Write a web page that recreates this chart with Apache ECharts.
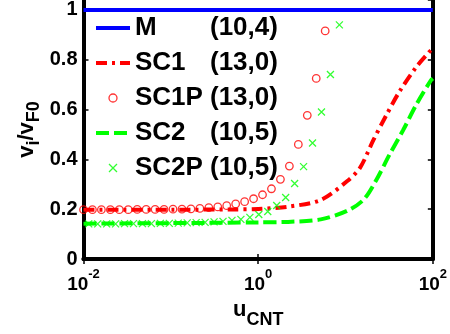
<!DOCTYPE html>
<html>
<head>
<meta charset="utf-8">
<script src="https://cdn.jsdelivr.net/npm/echarts@6/dist/echarts.min.js"></script>
<style>
  html, body { margin: 0; padding: 0; background: #fff; }
  #container { width: 450px; height: 334px; }
</style>
</head>
<body>
<div id="container"></div>
<script>
// names and chiralities for the legend
const seriesNames = ['M', 'SC1', 'SC1P', 'SC2', 'SC2P'];
const chirality = ['(10,4)', '(13,0)', '(13,0)', '(10,5)', '(10,5)'];

// M line (flat at 1)
const uM = [0.01, 100];
const yM = [1, 1];

// SC1 dash-dot curve
const uSC1 = [0.01, 0.1, 0.5, 1, 2.2, 5.2, 10.4, 14.6, 20.9, 29.4, 41.3, 64.3, 90.2, 100];
const ySC1 = [0.198, 0.198, 0.199, 0.201, 0.21, 0.237, 0.312, 0.365, 0.478, 0.578, 0.671, 0.77, 0.83, 0.845];

// SC2 dashed curve
const uSC2 = [0.01, 0.1, 1, 2.2, 5.2, 10.4, 16.2, 22.7, 31.8, 45.8, 64.3, 94.8, 100];
const ySC2 = [0.142, 0.144, 0.147, 0.149, 0.159, 0.193, 0.239, 0.319, 0.418, 0.518, 0.618, 0.717, 0.725];

// SC1P circles
const uSC1P = [0.01, 0.01266, 0.01603, 0.0203, 0.0257, 0.03254, 0.04121, 0.05218, 0.06607, 0.08366,
  0.1059, 0.1341, 0.1698, 0.215, 0.2723, 0.3447, 0.4365, 0.5527, 0.6998, 0.886,
  1.122, 1.42, 1.799, 2.278, 2.884, 3.652, 4.624, 5.855];
const ySC1P = [0.198, 0.198, 0.198, 0.198, 0.198, 0.198, 0.199, 0.199, 0.199, 0.199,
  0.2, 0.2, 0.201, 0.203, 0.206, 0.209, 0.214, 0.221, 0.23, 0.242,
  0.258, 0.282, 0.32, 0.373, 0.46, 0.577, 0.725, 0.916];

// SC2P crosses
const uSC2P = [0.01148, 0.01454, 0.01841, 0.02331, 0.02951, 0.03737, 0.04732, 0.05991, 0.07586, 0.09605,
  0.1216, 0.154, 0.195, 0.2469, 0.3126, 0.3959, 0.5012, 0.6346, 0.8035, 1.017,
  1.288, 1.631, 2.065, 2.615, 3.311, 4.193, 5.309, 6.722, 8.511];
const ySC2P = [0.141, 0.141, 0.141, 0.141, 0.142, 0.142, 0.142, 0.142, 0.143, 0.143,
  0.144, 0.145, 0.146, 0.147, 0.149, 0.151, 0.155, 0.159, 0.167, 0.179,
  0.191, 0.215, 0.247, 0.303, 0.371, 0.466, 0.59, 0.741, 0.94];

function pairs(xs, ys) {
  return xs.map((x, i) => [x, ys[i]]);
}

const FONT = 'Liberation Sans, Arial, Helvetica, sans-serif';
const chiral = {};
seriesNames.forEach((n, i) => { chiral[n] = chirality[i]; });

const crossPath = 'path://M0,0L10,10M10,0L0,10';
const RED = '#ff0000';
const GREEN = '#00ff00';
const BLUE = '#0000ff';
const DASHDOT = [11, 5, 3, 5];
const DASH = [13, 5];

var dom = document.getElementById('container');
var myChart = echarts.init(dom, null, { renderer: 'canvas' });

var option = {
  animation: false,
  backgroundColor: '#fff',
  textStyle: { fontFamily: FONT },
  grid: { left: 83.5, right: 12.5, top: -1, bottom: 74 },
  legend: {
    orient: 'vertical',
    left: 94,
    top: 15,
    padding: 0,
    itemWidth: 34,
    itemHeight: 8,
    itemGap: 9,
    selectedMode: false,
    textStyle: {
      fontFamily: FONT, fontSize: 26, fontWeight: 'bold', color: '#000',
      rich: {
        a: { fontFamily: FONT, fontSize: 26, fontWeight: 'bold', color: '#000', width: 75, lineHeight: 24 },
        b: { fontFamily: FONT, fontSize: 26, fontWeight: 'bold', color: '#000', lineHeight: 24 }
      }
    },
    formatter: function (name) {
      return '{a|' + name + '}{b|' + chiral[name] + '}';
    },
    data: [
      { name: 'M', itemStyle: { opacity: 0 }, lineStyle: { color: BLUE, width: 4, type: 'solid' } },
      { name: 'SC1', itemStyle: { opacity: 0 }, lineStyle: { color: RED, width: 4, type: DASHDOT } },
      { name: 'SC1P', icon: 'circle', itemStyle: { color: 'rgba(0,0,0,0)', borderColor: RED, borderWidth: 1.3 } },
      { name: 'SC2', itemStyle: { opacity: 0 }, lineStyle: { color: GREEN, width: 4, type: DASH } },
      { name: 'SC2P', icon: crossPath, itemStyle: { color: 'rgba(0,0,0,0)', borderColor: GREEN, borderWidth: 1.3 } }
    ]
  },
  xAxis: [{
    type: 'log',
    logBase: 10,
    min: 0.01,
    max: 100,
    interval: 2,
    position: 'bottom',
    axisLine: { lineStyle: { color: '#000', width: 4 } },
    axisTick: { inside: true, length: 5, lineStyle: { color: '#000', width: 1.5 } },
    minorTick: { show: false },
    splitLine: { show: false },
    axisLabel: {
      margin: 9,
      formatter: function (v) {
        const e = Math.round(Math.log10(v));
        return '{b|10}{s|' + e + '}';
      },
      rich: {
        b: { fontFamily: FONT, fontSize: 19, fontWeight: 'bold', color: '#000' },
        s: { fontFamily: FONT, fontSize: 13, fontWeight: 'bold', color: '#000', padding: [0, 0, 20, 0] }
      }
    },
    name: '{a|u}{b|CNT}',
    nameLocation: 'middle',
    nameGap: 32,
    nameMoveOverlap: false,
    nameTextStyle: {
      rich: {
        a: { fontFamily: FONT, fontSize: 22, fontWeight: 'bold', color: '#000' },
        b: { fontFamily: FONT, fontSize: 18, fontWeight: 'bold', color: '#000', padding: [20, 0, 0, 0] }
      }
    }
  }, {
    type: 'log',
    logBase: 10,
    min: 0.01,
    max: 100,
    interval: 2,
    position: 'top',
    axisLine: { lineStyle: { color: '#000', width: 4 } },
    axisTick: { inside: true, length: 5, lineStyle: { color: '#000', width: 1.5 } },
    axisLabel: { show: false },
    splitLine: { show: false }
  }],
  yAxis: [{
    type: 'value',
    min: 0,
    max: 1.04,
    interval: 0.2,
    position: 'left',
    axisLine: { show: true, lineStyle: { color: '#000', width: 4 } },
    axisTick: { show: true, inside: true, length: 5, lineStyle: { color: '#000', width: 1.5 } },
    splitLine: { show: false },
    axisLabel: {
      margin: 6,
      showMaxLabel: false,
      fontFamily: FONT, fontSize: 20, fontWeight: 'bold', color: '#000',
      formatter: function (v) {
        return v > 1.001 ? '' : String(+v.toFixed(1));
      }
    },
    name: '{a|v}{b|i}{a|/v}{b|F0}',
    nameLocation: 'middle',
    nameRotate: 90,
    nameGap: 40,
    nameMoveOverlap: false,
    nameTextStyle: {
      rich: {
        a: { fontFamily: FONT, fontSize: 22, fontWeight: 'bold', color: '#000' },
        b: { fontFamily: FONT, fontSize: 18, fontWeight: 'bold', color: '#000', padding: [16, 0, 0, 0] }
      }
    }
  }, {
    type: 'value',
    min: 0,
    max: 1.04,
    interval: 0.2,
    position: 'right',
    axisLine: { show: true, lineStyle: { color: '#000', width: 4 } },
    axisTick: { show: true, inside: true, length: 5, lineStyle: { color: '#000', width: 1.5 } },
    axisLabel: { show: false },
    splitLine: { show: false }
  }],
  series: [{
    name: 'M',
    type: 'line',
    data: pairs(uM, yM),
    symbol: 'none',
    lineStyle: { color: BLUE, width: 4 },
    itemStyle: { color: BLUE },
    z: 3
  }, {
    name: 'SC1',
    type: 'line',
    data: pairs(uSC1, ySC1),
    symbol: 'none',
    smooth: 0.3,
    lineStyle: { color: RED, width: 4, type: DASHDOT },
    itemStyle: { color: RED }
  }, {
    name: 'SC1P',
    type: 'scatter',
    data: pairs(uSC1P, ySC1P),
    symbol: 'circle',
    symbolSize: 7.5,
    itemStyle: { color: 'rgba(0,0,0,0)', borderColor: RED, borderWidth: 1.3 },
    z: 4
  }, {
    name: 'SC2',
    type: 'line',
    data: pairs(uSC2, ySC2),
    symbol: 'none',
    smooth: 0.3,
    lineStyle: { color: GREEN, width: 4, type: DASH },
    itemStyle: { color: GREEN }
  }, {
    name: 'SC2P',
    type: 'scatter',
    data: pairs(uSC2P, ySC2P),
    symbol: crossPath,
    symbolSize: 7,
    itemStyle: { color: 'rgba(0,0,0,0)', borderColor: GREEN, borderWidth: 1.3 },
    z: 4
  }]
};

if (option && typeof option === 'object') {
  myChart.setOption(option);
}
window.addEventListener('resize', myChart.resize);
</script>
</body>
</html>
